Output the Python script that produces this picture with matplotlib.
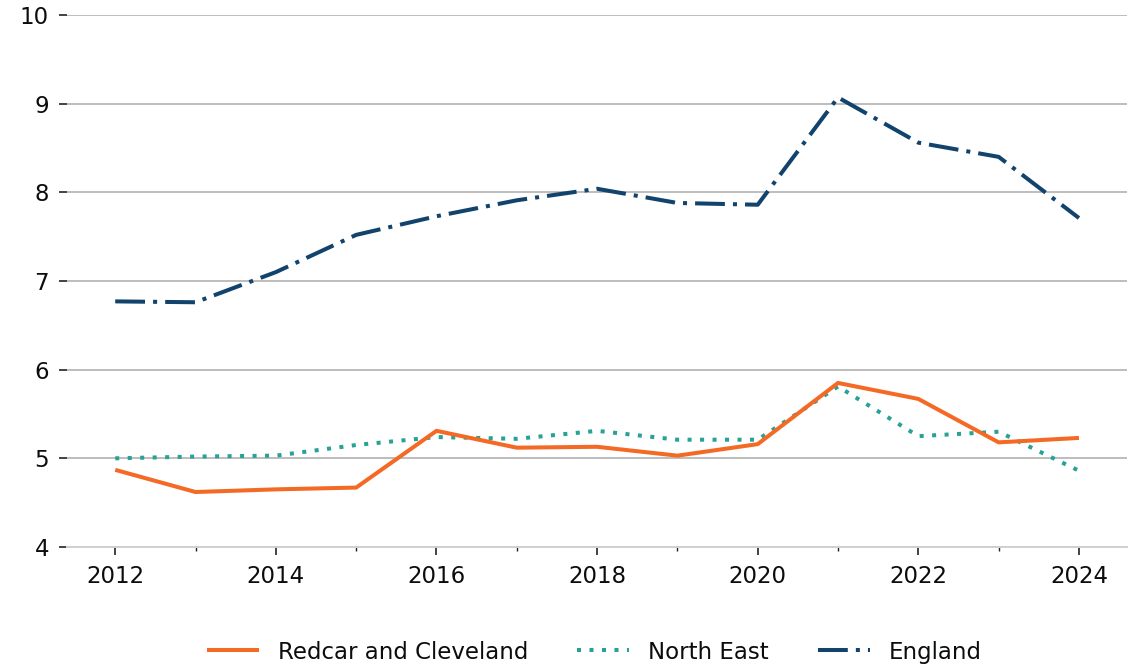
import matplotlib
matplotlib.use("Agg")
import matplotlib.pyplot as plt
from matplotlib.ticker import MultipleLocator

years = [2012, 2013, 2014, 2015, 2016, 2017, 2018, 2019, 2020, 2021, 2022, 2023, 2024]
redcar = [4.87, 4.62, 4.65, 4.67, 5.31, 5.12, 5.13, 5.03, 5.16, 5.85, 5.67, 5.18, 5.23]
north_east = [5.00, 5.02, 5.03, 5.15, 5.24, 5.22, 5.31, 5.21, 5.21, 5.81, 5.25, 5.30, 4.86]
england = [6.77, 6.76, 7.10, 7.52, 7.73, 7.91, 8.04, 7.88, 7.86, 9.07, 8.56, 8.40, 7.71]
series_names = ["Redcar and Cleveland", "North East", "England"]
y_ticks = [4, 5, 6, 7, 8, 9, 10]
x_ticks = [2012, 2014, 2016, 2018, 2020, 2022, 2024]

text_color = "#0B0C0C"
fig = plt.figure(figsize=(11.42, 6.66), dpi=100)
ax = fig.add_axes([0.0587, 0.1787, 0.9283, 0.7988])

ax.plot(years, redcar, color="#F46A25", lw=2.9, solid_capstyle="butt", label=series_names[0], zorder=4)
ax.plot(years, north_east, color="#28A197", lw=2.9, linestyle=(0, (1, 2.1)),
        dash_capstyle="butt", label=series_names[1], zorder=3)
ax.plot(years, england, color="#12436D", lw=2.9, linestyle=(0, (7.4, 2.0, 1.0, 2.0)),
        dash_capstyle="butt", label=series_names[2], zorder=3)

ax.set_xlim(2011.4, 2024.6)
ax.set_ylim(4, 10)
ax.set_yticks(y_ticks)
ax.set_xticks(x_ticks)
ax.xaxis.set_minor_locator(MultipleLocator(1))
ax.tick_params(axis="both", labelsize=16.5, labelcolor=text_color)
ax.tick_params(axis="x", which="major", length=6, width=1.2, color="#222222", pad=7)
ax.tick_params(axis="x", which="minor", length=3, width=1.0, color="#222222")
ax.tick_params(axis="y", length=6, width=1.2, color="#222222", pad=7)

ax.yaxis.grid(True, color="#BDBDBD", lw=1.4)
ax.set_axisbelow(True)
for s in ["top", "right", "left"]:
    ax.spines[s].set_visible(False)
ax.spines["bottom"].set_color("#D0D0D0")
ax.spines["bottom"].set_linewidth(1.4)

leg = fig.legend(loc="center", bbox_to_anchor=(0.5206, 0.021), ncol=3, frameon=False,
                 fontsize=16.5, handlelength=2.27, columnspacing=2.14, handletextpad=0.83,
                 borderaxespad=0, borderpad=0)
for t in leg.get_texts():
    t.set_color(text_color)

fig.savefig("out.png", dpi=100, facecolor="white")
